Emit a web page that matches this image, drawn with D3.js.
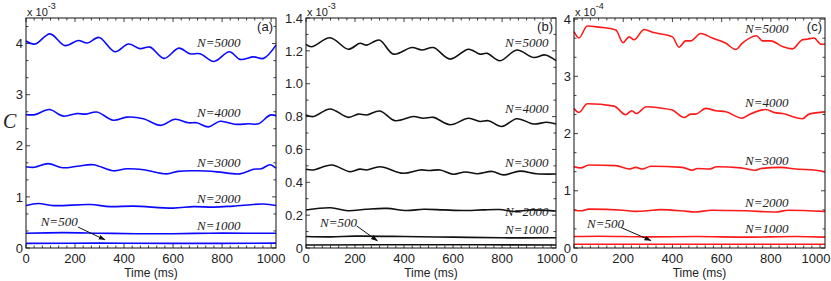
<!DOCTYPE html>
<meta charset="utf-8">
<script src="https://d3js.org/d3.v7.min.js"></script>
<style>
  body { margin: 0; background: #fff; }
  svg text { font-family: "Liberation Sans", Arial, sans-serif; fill: #222; }
  .nlab { font-family: "Liberation Serif", "Times New Roman", serif !important; font-style: italic; font-size: 13px; }
</style>
<div id="chart"></div>
<script>
  // time (ms), C values; panel (a) x 1e-3
  var a5000 = [[0,4.05],[37,3.99],[98,4.19],[159,3.96],[213,4.06],[250,4.01],[298,4.12],[363,3.84],[418,3.99],[465,3.90],[506,3.93],[563,3.71],[624,3.91],[669,3.80],[710,3.80],[767,3.65],[830,3.84],[873,3.69],[928,3.74],[969,3.71],[1020,3.97]];
  var a4000 = [[0,2.61],[37,2.61],[95,2.71],[152,2.58],[207,2.63],[245,2.62],[289,2.66],[356,2.50],[411,2.56],[479,2.53],[550,2.40],[608,2.52],[663,2.45],[697,2.45],[744,2.37],[792,2.48],[853,2.42],[907,2.43],[948,2.43],[996,2.60],[1020,2.59]];
  var a3000 = [[0,1.59],[35,1.58],[90,1.65],[150,1.57],[210,1.60],[275,1.63],[356,1.51],[411,1.55],[480,1.53],[574,1.45],[620,1.50],[697,1.51],[780,1.49],[873,1.45],[928,1.54],[960,1.55],[996,1.63],[1020,1.56]];
  var a2000 = [[0,0.83],[50,0.87],[112,0.83],[261,0.85],[343,0.81],[438,0.82],[601,0.78],[683,0.81],[765,0.80],[846,0.82],[969,0.86],[1020,0.83]];
  var a1000 = [[0,0.29],[150,0.30],[300,0.29],[450,0.28],[600,0.28],[750,0.29],[900,0.29],[1020,0.29]];
  var a500 = [[0,0.09],[300,0.095],[600,0.09],[1020,0.095]];

  // panel (b) x 1e-3
  var b5000 = [[0,1.24],[23,1.225],[98,1.28],[173,1.21],[220,1.246],[248,1.235],[299,1.266],[357,1.18],[432,1.22],[473,1.205],[520,1.22],[588,1.15],[663,1.21],[710,1.18],[738,1.185],[792,1.14],[860,1.205],[928,1.16],[976,1.175],[1020,1.14]];
  var b4000 = [[0,0.81],[30,0.80],[98,0.846],[173,0.795],[213,0.815],[248,0.81],[302,0.834],[363,0.775],[438,0.80],[479,0.79],[520,0.795],[588,0.75],[663,0.79],[710,0.77],[744,0.775],[799,0.74],[860,0.787],[928,0.755],[982,0.765],[1020,0.755]];
  var b3000 = [[0,0.479],[30,0.475],[105,0.505],[180,0.464],[220,0.48],[248,0.475],[302,0.495],[397,0.455],[465,0.475],[506,0.472],[547,0.475],[601,0.449],[650,0.463],[700,0.452],[760,0.466],[806,0.445],[873,0.468],[940,0.452],[1020,0.45]];
  var b2000 = [[0,0.231],[100,0.245],[170,0.227],[245,0.236],[330,0.241],[410,0.228],[480,0.236],[560,0.232],[640,0.228],[720,0.232],[790,0.234],[850,0.222],[920,0.232],[1020,0.225]];
  var b1000 = [[0,0.07],[100,0.068],[200,0.072],[400,0.07],[600,0.066],[800,0.062],[1020,0.062]];
  var b500 = [[0,0.018],[500,0.02],[1020,0.018]];

  // panel (c) x 1e-4
  var c5000 = [[0,3.78],[20,3.67],[54,3.88],[102,3.86],[170,3.81],[199,3.59],[224,3.69],[244,3.64],[285,3.82],[319,3.77],[400,3.69],[427,3.51],[454,3.62],[474,3.62],[515,3.75],[562,3.67],[617,3.58],[657,3.47],[684,3.58],[741,3.71],[766,3.62],[800,3.62],[847,3.52],[888,3.48],[928,3.64],[948,3.65],[975,3.67],[1005,3.56],[1020,3.56]];
  var c4000 = [[0,2.44],[20,2.37],[54,2.52],[163,2.48],[210,2.33],[235,2.40],[253,2.35],[294,2.47],[346,2.45],[400,2.41],[447,2.28],[474,2.34],[495,2.34],[535,2.44],[576,2.40],[617,2.38],[684,2.27],[711,2.33],[779,2.42],[813,2.37],[847,2.35],[928,2.26],[955,2.34],[1020,2.38]];
  var c3000 = [[0,1.42],[27,1.40],[61,1.45],[170,1.44],[224,1.38],[251,1.41],[278,1.38],[312,1.43],[440,1.41],[481,1.36],[501,1.39],[549,1.38],[580,1.42],[678,1.40],[739,1.36],[760,1.39],[840,1.41],[900,1.38],[982,1.36],[1020,1.33]];
  var c2000 = [[0,0.66],[30,0.65],[60,0.68],[200,0.66],[250,0.64],[300,0.65],[350,0.67],[460,0.64],[490,0.63],[560,0.66],[700,0.65],[820,0.63],[870,0.66],[1020,0.64]];
  var c1000 = [[0,0.20],[100,0.205],[300,0.195],[500,0.20],[700,0.19],[900,0.20],[1020,0.19]];
  var c500 = [[0,0.065],[1020,0.065]];

  var seriesNames = ["N=5000", "N=4000", "N=3000", "N=2000", "N=1000", "N=500"];
  var xTicks = [0, 200, 400, 600, 800, 1000];

  var width = 831, height = 281;
  var plotTop = 18, plotBottom = 248;

  var svg = d3.select("#chart").append("svg")
    .attr("width", width)
    .attr("height", height);

  svg.append("defs").append("marker")
    .attr("id", "arrow")
    .attr("viewBox", "0 0 10 10")
    .attr("refX", 9).attr("refY", 5)
    .attr("markerWidth", 7).attr("markerHeight", 7)
    .attr("orient", "auto")
    .append("path")
    .attr("d", "M0,1.5 L10,5 L0,8.5 Z")
    .attr("fill", "#111");

  var panels = [
    { left: 26, right: 276, yMax: 4.5, yTicks: [0,1,2,3,4], yMinor: 1/3, fmt: d => d, color: "#0a0aff",
      exp: "-3", tag: "(a)", data: [a5000, a4000, a3000, a2000, a1000, a500],
      labels: [[698,3.94],[698,2.56],[698,1.59],[698,0.88],[698,0.35],[60,0.44]],
      arrow: [[212,0.41],[322,0.16]], smooth: d3.curveCatmullRom },
    { left: 306, right: 556, yMax: 1.4, yTicks: [0,0.2,0.4,0.6,0.8,1.0,1.2,1.4], yMinor: 0.1,
      fmt: d => d === 0 ? "0" : d.toFixed(1), color: "#111",
      exp: "-3", tag: "(b)", data: [b5000, b4000, b3000, b2000, b1000, b500],
      labels: [[812,1.223],[812,0.82],[812,0.493],[812,0.195],[812,0.085],[57,0.128]],
      arrow: [[207,0.134],[291,0.044]], smooth: d3.curveCatmullRom },
    { left: 574, right: 825, yMax: 4.02, yTicks: [0,1,2,3,4], yMinor: 1/3, fmt: d => d, color: "#ff1a1a",
      exp: "-4", tag: "(c)", data: [c5000, c4000, c3000, c2000, c1000, c500],
      labels: [[695,3.76],[695,2.47],[695,1.45],[695,0.72],[695,0.26],[53,0.35]],
      arrow: [[190,0.36],[312,0.13]], smooth: d3.curveMonotoneX }
  ];

  panels.forEach(function(p) {
    var x = d3.scaleLinear().domain([0, 1020]).range([p.left, p.right]);
    var y = d3.scaleLinear().domain([0, p.yMax]).range([plotBottom, plotTop]);
    var g = svg.append("g");

    // minor and major ticks, inward on all sides
    var xm = d3.range(0, 1021, 200 / 6);
    xm.forEach(function(t) {
      var major = Math.abs(t / 200 - Math.round(t / 200)) < 1e-6;
      var len = major ? 4 : 2.5;
      g.append("line").attr("x1", x(t)).attr("x2", x(t)).attr("y1", plotBottom).attr("y2", plotBottom - len)
        .attr("stroke", "#111").attr("stroke-width", 0.8);
      g.append("line").attr("x1", x(t)).attr("x2", x(t)).attr("y1", plotTop).attr("y2", plotTop + len)
        .attr("stroke", "#111").attr("stroke-width", 0.8);
    });
    var ym = d3.range(0, p.yMax + 1e-6, p.yMinor);
    ym.forEach(function(v) {
      var major = p.yTicks.some(t => Math.abs(t - v) < 1e-6);
      var len = major ? 4 : 2.5;
      g.append("line").attr("x1", p.left).attr("x2", p.left + len).attr("y1", y(v)).attr("y2", y(v))
        .attr("stroke", "#111").attr("stroke-width", 0.8);
      g.append("line").attr("x1", p.right).attr("x2", p.right - len).attr("y1", y(v)).attr("y2", y(v))
        .attr("stroke", "#111").attr("stroke-width", 0.8);
    });

    // tick labels (keep the last one inside the page)
    g.selectAll("text.xt").data(xTicks).enter().append("text")
      .attr("class", "xt")
      .attr("x", d => Math.min(x(d), width - 15)).attr("y", 263)
      .attr("text-anchor", "middle").style("font-size", "13px")
      .text(d => d);
    g.selectAll("text.yt").data(p.yTicks).enter().append("text")
      .attr("class", "yt")
      .attr("x", p.left - 3).attr("y", d => y(d)).attr("dy", "0.36em")
      .attr("text-anchor", "end").style("font-size", "13px")
      .text(p.fmt);

    g.append("text")
      .attr("x", (p.left + p.right) / 2).attr("y", 277)
      .attr("text-anchor", "middle").style("font-size", "12px")
      .text("Time (ms)");

    // exponent
    var ex = g.append("text").attr("x", p.left + 1).attr("y", 15.5).style("font-size", "11px").text("x 10");
    ex.append("tspan").attr("dy", -7).style("font-size", "9px").text(p.exp);

    // curves
    var line = d3.line().x(d => x(d[0])).y(d => y(d[1])).curve(p.smooth);
    p.data.forEach(function(s) {
      g.append("path").datum(s).attr("d", line)
        .attr("fill", "none").attr("stroke", p.color).attr("stroke-width", 1.6);
    });

    // series labels
    p.labels.forEach(function(l, i) {
      g.append("text").attr("class", "nlab")
        .attr("x", x(l[0])).attr("y", y(l[1]))
        .text(seriesNames[i]);
    });

    g.append("line")
      .attr("x1", x(p.arrow[0][0])).attr("y1", y(p.arrow[0][1]))
      .attr("x2", x(p.arrow[1][0])).attr("y2", y(p.arrow[1][1]))
      .attr("stroke", "#111").attr("stroke-width", 1)
      .attr("marker-end", "url(#arrow)");

    // frame
    g.append("rect")
      .attr("x", p.left).attr("y", plotTop)
      .attr("width", p.right - p.left).attr("height", plotBottom - plotTop)
      .attr("fill", "none").attr("stroke", "#111").attr("stroke-width", 1);

    g.append("text")
      .attr("x", p.right - 3).attr("y", 31)
      .attr("text-anchor", "end").style("font-size", "13px")
      .text(p.tag);
  });

  svg.append("text")
    .attr("x", 3).attr("y", 128)
    .style("font-family", "'Liberation Serif', serif")
    .style("font-style", "italic").style("font-size", "20px")
    .text("C");
</script>
